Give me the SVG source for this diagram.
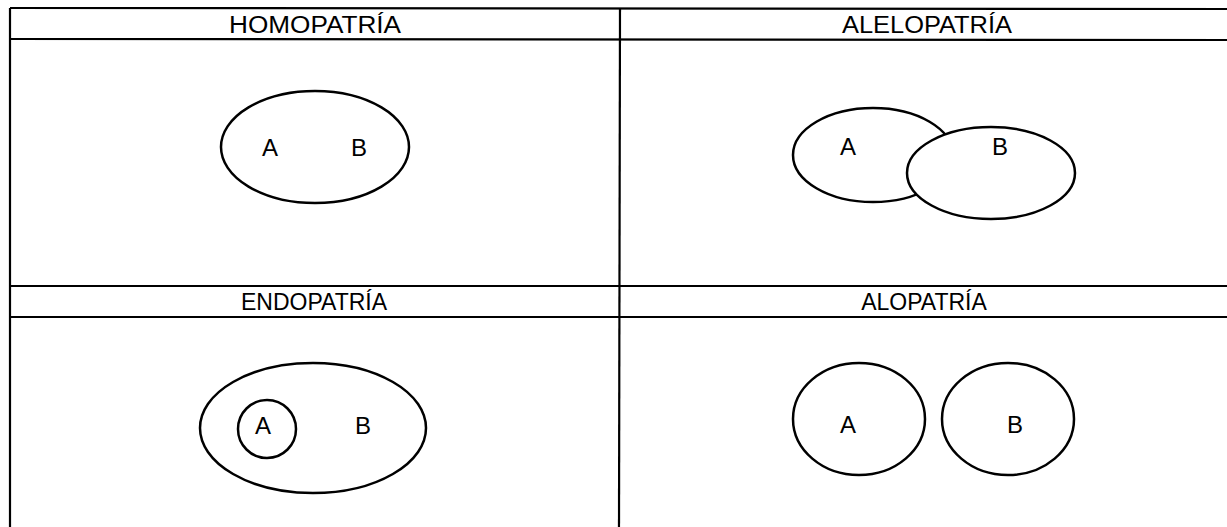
<svg xmlns="http://www.w3.org/2000/svg" width="1227" height="527" viewBox="0 0 1227 527">
<style>
.ln{stroke:#000;stroke-width:2.2;fill:none}
.sh{stroke:#000;stroke-width:2.5;fill:#fff}
.hd{font-family:"Liberation Sans",Arial,sans-serif;font-size:23px;fill:#000;text-anchor:middle}
.lb{font-family:"Liberation Sans",Arial,sans-serif;font-size:24px;fill:#000;text-anchor:middle}
</style>
<rect width="1227" height="527" fill="#fff"/>
<g id="grid">
<line class="ln" x1="10" y1="8" x2="1227" y2="9"/>
<line class="ln" x1="10" y1="39" x2="1227" y2="40"/>
<line class="ln" x1="10" y1="286" x2="1227" y2="286"/>
<line class="ln" x1="10" y1="317" x2="1227" y2="317"/>
<line class="ln" x1="10" y1="8" x2="10" y2="527"/>
<line class="ln" x1="620" y1="9" x2="619" y2="527"/>
</g>
<g id="homopatria">
<text class="hd" x="315" y="33" textLength="172" lengthAdjust="spacingAndGlyphs">HOMOPATRÍA</text>
<ellipse class="sh" cx="315" cy="147" rx="94" ry="56"/>
<text class="lb" x="270" y="156">A</text>
<text class="lb" x="359" y="156">B</text>
</g>
<g id="alelopatria">
<text class="hd" x="927" y="33" textLength="170" lengthAdjust="spacingAndGlyphs">ALELOPATRÍA</text>
<ellipse class="sh" cx="873" cy="155" rx="80" ry="47"/>
<ellipse class="sh" cx="991" cy="173" rx="84" ry="46"/>
<text class="lb" x="848" y="155">A</text>
<text class="lb" x="1000" y="155">B</text>
</g>
<g id="endopatria">
<text class="hd" x="314" y="310">ENDOPATRÍA</text>
<ellipse class="sh" cx="313" cy="428" rx="113" ry="65"/>
<circle class="sh" cx="267" cy="429" r="29"/>
<text class="lb" x="263" y="434">A</text>
<text class="lb" x="363" y="434">B</text>
</g>
<g id="alopatria">
<text class="hd" x="924" y="310">ALOPATRÍA</text>
<ellipse class="sh" cx="859" cy="419" rx="66" ry="56"/>
<ellipse class="sh" cx="1008" cy="419" rx="66" ry="56"/>
<text class="lb" x="848" y="433">A</text>
<text class="lb" x="1015" y="433">B</text>
</g>
</svg>
